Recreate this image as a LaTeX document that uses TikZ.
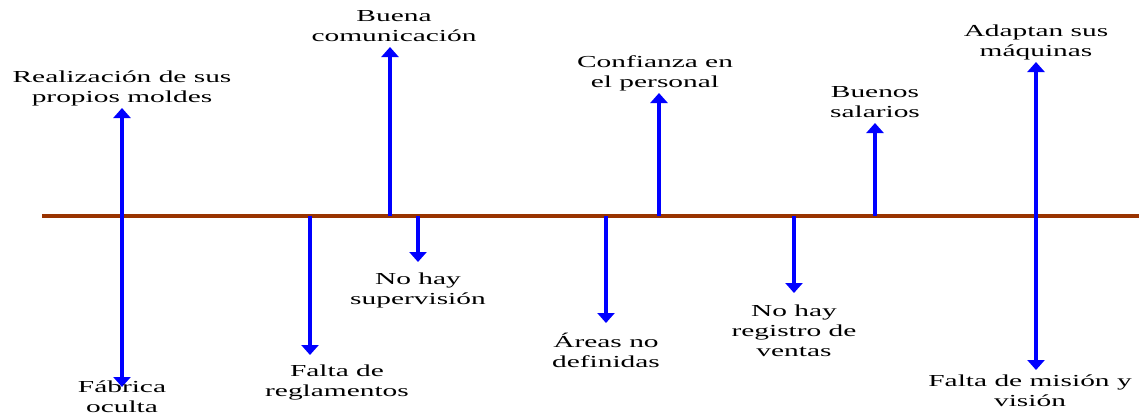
\documentclass[tikz,border=0pt]{standalone}
\usepackage{fontspec}
\setmainfont{Liberation Serif}
\newfontfamily\lblfont[FakeStretch=1.75]{Liberation Serif}
\usetikzlibrary{arrows.meta,positioning}
\definecolor{ejecafe}{RGB}{153,51,0}
\definecolor{flechaazul}{RGB}{0,0,255}
\tikzset{
  eje/.style={draw=ejecafe, line width=4.3pt},
  flecha/.style={draw=flechaazul, line width=3.5pt, -{Triangle[width=17pt,length=10pt]}},
  doble/.style={flecha, {Triangle[width=17pt,length=10pt]}-{Triangle[width=17pt,length=10pt]}},
  etiqueta/.style={align=center, inner sep=0pt, text depth=3.6pt,
    font=\lblfont\fontsize{16.8}{19.7}\selectfont}
}

\begin{document}
\begin{tikzpicture}[x=1pt,y=1pt]
				\useasboundingbox (0,0) rectangle (1139,-416);
				
				% eje
				\coordinate (izq) at (42,-216);
				\coordinate (der) at (1139,-216);
				\draw[eje] (izq) -- (der);
				
				% puntos sobre el eje
				\coordinate (a2) at (310,-216);
				\coordinate (a3) at (390,-216);
				\coordinate (a4) at (418,-216);
				\coordinate (a5) at (606,-216);
				\coordinate (a6) at (659,-216);
				\coordinate (a7) at (794,-216);
				\coordinate (a8) at (875,-216);
				
				% puntas
				\coordinate (t1) at (122,-108);
				\coordinate (b1) at (122,-387);
				\coordinate (t2) at (310,-355);
				\coordinate (t3) at (390,-47);
				\coordinate (t4) at (418,-262);
				\coordinate (t5) at (606,-323);
				\coordinate (t6) at (659,-93);
				\coordinate (t7) at (794,-293);
				\coordinate (t8) at (875,-123);
				\coordinate (t9) at (1036,-62);
				\coordinate (b9) at (1036,-370);
				
				\draw[doble] (b1) -- (t1);
				\draw[flecha] (a2) -- (t2);
				\draw[flecha] (a3) -- (t3);
				\draw[flecha] (a4) -- (t4);
				\draw[flecha] (a5) -- (t5);
				\draw[flecha] (a6) -- (t6);
				\draw[flecha] (a7) -- (t7);
				\draw[flecha] (a8) -- (t8);
				\draw[doble] (b9) -- (t9);
				
				% fortalezas
				\node[etiqueta, above=2pt of t1] (n1) {Realización de sus\\propios moldes};
				\node[etiqueta, above=2pt of t3, xshift=4pt] (n3) {Buena\\comunicación};
				\node[etiqueta, above=2pt of t6, xshift=-4pt] (n6) {Confianza en\\el personal};
				\node[etiqueta, above=2pt of t8] (n8) {Buenos\\salarios};
				\node[etiqueta, above=2pt of t9] (n9) {Adaptan sus\\máquinas};
				
				% debilidades
				\node[etiqueta, below=-6pt of b1] (m1) {Fábrica\\oculta};
				\node[etiqueta, below=10pt of t2, xshift=27pt] (m2) {Falta de\\reglamentos};
				\node[etiqueta, below=11pt of t4] (m4) {No hay\\supervisión};
				\node[etiqueta, below=10pt of t5] (m5) {Áreas no\\definidas};
				\node[etiqueta, below=12pt of t7] (m7) {No hay\\registro de\\ventas};
				\node[etiqueta, below=5pt of b9, xshift=-6pt] (m9) {Falta de misión y\\visión};
			\end{tikzpicture}
\end{document}
